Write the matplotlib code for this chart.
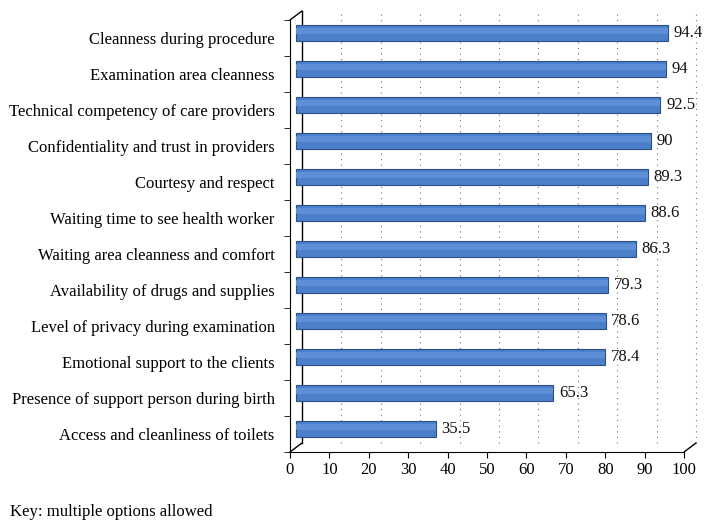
import matplotlib.pyplot as plt
import matplotlib.transforms as mtransforms
import numpy as np

plt.rcParams['font.family'] = ['Liberation Serif', 'DejaVu Serif']

categories = [
    "Cleanness during procedure",
    "Examination area cleanness",
    "Technical competency of care providers",
    "Confidentiality and trust in providers",
    "Courtesy and respect",
    "Waiting time to see health worker",
    "Waiting area cleanness and comfort",
    "Availability of drugs and supplies",
    "Level of privacy during examination",
    "Emotional support to the clients",
    "Presence of support person during birth",
    "Access and cleanliness of toilets",
]
values = [94.4, 94, 92.5, 90, 89.3, 88.6, 86.3, 79.3, 78.6, 78.4, 65.3, 35.5]
value_labels = ["94.4", "94", "92.5", "90", "89.3", "88.6", "86.3", "79.3", "78.6", "78.4", "65.3", "35.5"]
xticks = list(range(0, 101, 10))

fig = plt.figure(figsize=(7.13, 5.31), dpi=100)
W, H = 713, 531
ax = fig.add_axes([290 / W, 1 - 452 / H, (684 - 290) / W, (452 - 20) / H])

y = np.arange(len(categories))[::-1]

# pseudo-3D offsets (px at dpi 100)
bar_shift = mtransforms.ScaledTranslation(6 / 100, 5 / 100, fig.dpi_scale_trans)
wall_shift = mtransforms.ScaledTranslation(12 / 100, 9 / 100, fig.dpi_scale_trans)

# back-wall dotted gridlines
for v in xticks[1:]:
    ax.plot([v, v], [-0.5, 11.5], ls=(0, (1, 4)), color="#777777", lw=0.8,
            transform=ax.transData + wall_shift, clip_on=False, zorder=0)
# back-wall left edge and depth lines
ax.plot([0, 0], [0, 1], color="black", lw=1.0,
        transform=ax.transAxes + wall_shift, clip_on=False)
for (xa, ya) in [(0, 1), (0, 0), (1, 0)]:
    ax.annotate("", xy=(xa, ya), xycoords=ax.transAxes + wall_shift,
                xytext=(xa, ya), textcoords=ax.transAxes,
                arrowprops=dict(arrowstyle="-", color="black", lw=1.0,
                                shrinkA=0, shrinkB=0))

ax.barh(y, values, height=0.42, color="#4a7fca", edgecolor="#2b4f86",
        linewidth=0.8, transform=ax.transData + bar_shift, zorder=3)
# softer upper band for a cylinder look
ax.barh(y + 0.06, values, height=0.16, color="#5e8fd6", linewidth=0,
        transform=ax.transData + bar_shift, zorder=4)
for yi, v, lab in zip(y, values, value_labels):
    ax.annotate(lab, xy=(v, yi), xycoords=ax.transData + bar_shift,
                xytext=(4, 0), textcoords="offset points",
                va="center", ha="left", fontsize=12, color="#111111")

ax.set_xlim(0, 100)
ax.set_ylim(-0.5, 11.5)
ax.set_xticks(xticks)
ax.set_xticklabels([str(t) for t in xticks], fontsize=12)
ax.set_yticks(y)
ax.set_yticklabels(categories, fontsize=12)
ax.set_yticks(np.arange(-0.5, 12, 1), minor=True)
ax.tick_params(axis="y", which="major", length=0, pad=11)
ax.tick_params(axis="y", which="minor", length=4, direction="out")
ax.tick_params(axis="x", length=4, direction="out", pad=3)
for s in ["top", "right"]:
    ax.spines[s].set_visible(False)
ax.patch.set_alpha(0)

fig.text(10 / W, 1 - 512 / H, "Key: multiple options allowed", fontsize=12, va="center")

fig.savefig("out.png", dpi=100)
